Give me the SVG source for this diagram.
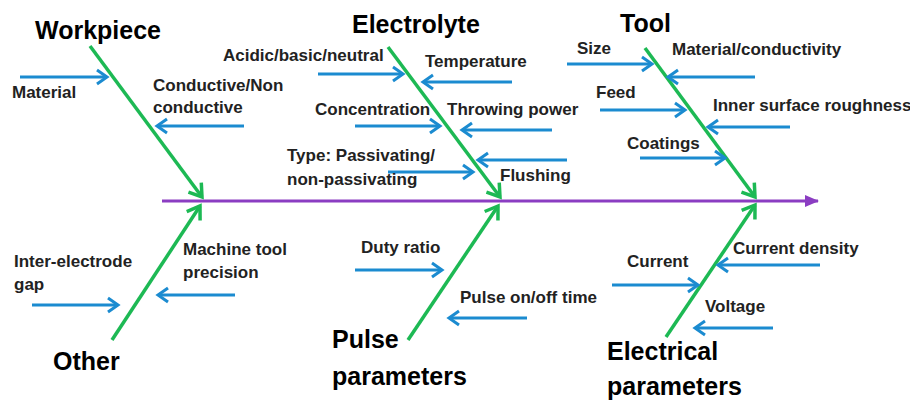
<svg xmlns="http://www.w3.org/2000/svg" width="910" height="400" viewBox="0 0 910 400">
<defs>
<style>
.title{font-family:"Liberation Sans",Arial,sans-serif;font-weight:bold;font-size:25px;fill:#000}
.lbl{font-family:"Liberation Sans",Arial,sans-serif;font-weight:bold;font-size:17px;fill:#222}
.cause{stroke:#1B8BD0;stroke-width:3;fill:none;marker-end:url(#mBlue)}
.branch{stroke:#1DB954;stroke-width:3.5;fill:none;marker-end:url(#mGreen)}
.spine{stroke:#8B3DC2;stroke-width:3;fill:none;marker-end:url(#mPurple)}
</style>
<marker id="mBlue" markerUnits="userSpaceOnUse" viewBox="0 0 16 18" markerWidth="16" markerHeight="18" refX="13" refY="9" orient="auto">
<path d="M3,2 L13,9 L3,16" fill="none" stroke="#1B8BD0" stroke-width="3"/>
</marker>
<marker id="mGreen" markerUnits="userSpaceOnUse" viewBox="0 0 18 20" markerWidth="18" markerHeight="20" refX="15" refY="10" orient="auto">
<path d="M3,2 L15,10 L3,18" fill="none" stroke="#1DB954" stroke-width="3.5"/>
</marker>
<marker id="mPurple" markerUnits="userSpaceOnUse" viewBox="0 0 16 16" markerWidth="16" markerHeight="16" refX="14" refY="8" orient="auto">
<path d="M1,2 L15,8 L1,14 Z" fill="#8B3DC2"/>
</marker>
</defs>
<rect width="910" height="400" fill="#fff"/>

<g id="connectors">
<line class="spine" x1="162" y1="201" x2="818" y2="201"/>
<line class="branch" x1="90" y1="46" x2="202" y2="197"/>
<line class="branch" x1="388" y1="47" x2="500" y2="197"/>
<line class="branch" x1="645" y1="48" x2="755" y2="197"/>
<line class="branch" x1="112" y1="340" x2="200" y2="206"/>
<line class="branch" x1="408" y1="340" x2="498" y2="206"/>
<line class="branch" x1="666" y1="337" x2="755" y2="205"/>
<line class="cause" x1="20" y1="77" x2="107" y2="77"/>
<line class="cause" x1="244" y1="126" x2="157" y2="126"/>
<line class="cause" x1="318" y1="74" x2="403" y2="74"/>
<line class="cause" x1="512" y1="82" x2="423" y2="82"/>
<line class="cause" x1="355" y1="126" x2="440" y2="126"/>
<line class="cause" x1="552" y1="130" x2="462" y2="130"/>
<line class="cause" x1="388" y1="172" x2="473" y2="172"/>
<line class="cause" x1="567" y1="160" x2="478" y2="160"/>
<line class="cause" x1="567" y1="64" x2="652" y2="64"/>
<line class="cause" x1="755" y1="77" x2="668" y2="77"/>
<line class="cause" x1="600" y1="110" x2="685" y2="110"/>
<line class="cause" x1="790" y1="127" x2="708" y2="127"/>
<line class="cause" x1="640" y1="158" x2="725" y2="158"/>
<line class="cause" x1="32" y1="305" x2="118" y2="305"/>
<line class="cause" x1="235" y1="295" x2="158" y2="295"/>
<line class="cause" x1="355" y1="270" x2="442" y2="270"/>
<line class="cause" x1="527" y1="318" x2="449" y2="318"/>
<line class="cause" x1="820" y1="265" x2="718" y2="265"/>
<line class="cause" x1="612" y1="285" x2="698" y2="285"/>
<line class="cause" x1="773" y1="328" x2="695" y2="328"/>
</g>

<g id="workpiece">
<text class="title" x="35" y="39">Workpiece</text>
<text class="lbl" x="12" y="98">Material</text>
<text class="lbl" x="153" y="91">Conductive/Non</text>
<text class="lbl" x="153" y="113">conductive</text>
</g>

<g id="electrolyte">
<text class="title" x="352" y="33">Electrolyte</text>
<text class="lbl" x="223" y="61">Acidic/basic/neutral</text>
<text class="lbl" x="425" y="67">Temperature</text>
<text class="lbl" x="315" y="115">Concentration</text>
<text class="lbl" x="447" y="115">Throwing power</text>
<text class="lbl" x="287" y="161">Type: Passivating/</text>
<text class="lbl" x="287" y="185">non-passivating</text>
<text class="lbl" x="500" y="181">Flushing</text>
</g>

<g id="tool">
<text class="title" x="620" y="32">Tool</text>
<text class="lbl" x="577" y="54">Size</text>
<text class="lbl" x="672" y="55">Material/conductivity</text>
<text class="lbl" x="596" y="98">Feed</text>
<text class="lbl" x="713" y="111">Inner surface roughness</text>
<text class="lbl" x="627" y="149">Coatings</text>
</g>

<g id="other">
<text class="title" x="53" y="370">Other</text>
<text class="lbl" x="14" y="267">Inter-electrode</text>
<text class="lbl" x="14" y="290">gap</text>
<text class="lbl" x="183" y="255">Machine tool</text>
<text class="lbl" x="183" y="278">precision</text>
</g>

<g id="pulse-parameters">
<text class="title" x="332" y="348">Pulse</text>
<text class="title" x="332" y="385">parameters</text>
<text class="lbl" x="361" y="253">Duty ratio</text>
<text class="lbl" x="460" y="303">Pulse on/off time</text>
</g>

<g id="electrical-parameters">
<text class="title" x="607" y="360">Electrical</text>
<text class="title" x="607" y="395">parameters</text>
<text class="lbl" x="733" y="254">Current density</text>
<text class="lbl" x="627" y="267">Current</text>
<text class="lbl" x="705" y="312">Voltage</text>
</g>
</svg>
